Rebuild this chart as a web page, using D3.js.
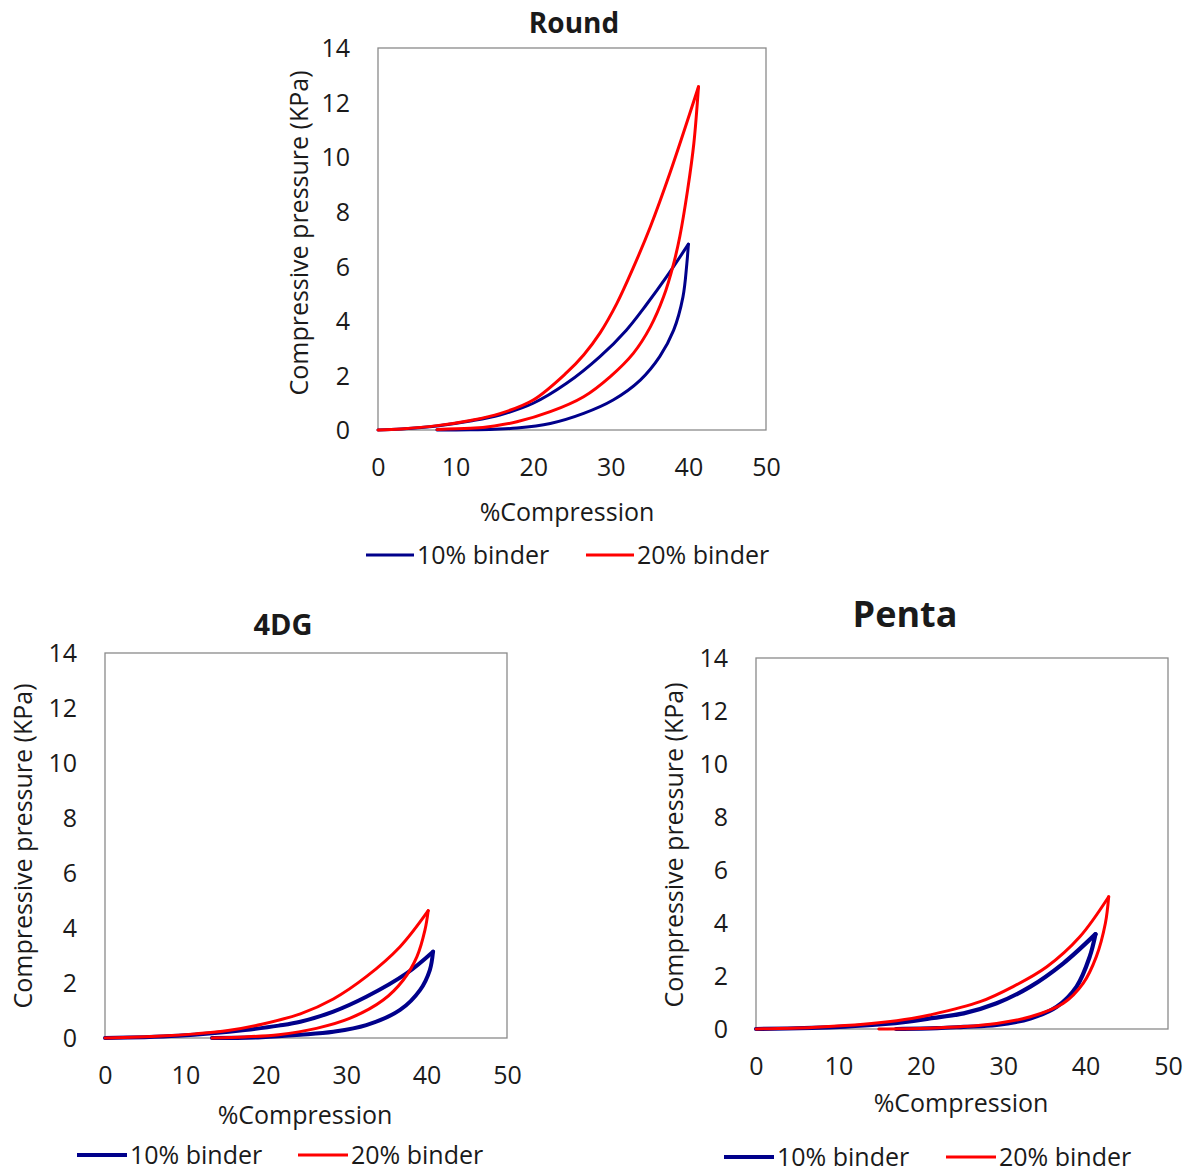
<!DOCTYPE html>
<html>
<head>
<meta charset="utf-8" />
<title>Compression curves</title>
<script src="https://d3js.org/d3.v7.min.js"></script>
<style>
  body { margin: 0; background: #fff; }
  text { fill: #1a1a1a; }
</style>
</head>
<body>
<script>
// ---- data: [%compression, pressure kPa], loading and unloading branches ----
var round10Load   = [[0,0],[3,0.04],[7.6,0.15],[11.9,0.33],[15.7,0.55],[20.0,0.98],[24.3,1.71],[28.6,2.69],[32.0,3.66],[34.6,4.6],[37.2,5.62],[40.0,6.81]];
var round10Unload = [[7.6,0],[11.9,0.01],[15,0.03],[17.9,0.07],[22.2,0.24],[26.5,0.61],[30.3,1.1],[33.8,1.83],[36.3,2.69],[38.1,3.66],[39.3,4.88],[39.8,6.1],[40.0,6.81]];
var round20Load   = [[0,0],[3,0.04],[7.6,0.16],[11.9,0.35],[15.7,0.6],[20.0,1.1],[24.3,2.1],[26.5,2.75],[28.6,3.55],[30.8,4.65],[32.9,5.95],[35.1,7.45],[37.6,9.4],[41.3,12.58]];
var round20Unload = [[7.6,0.02],[11.9,0.06],[15,0.15],[17.9,0.3],[22.2,0.67],[26.5,1.22],[29.9,1.95],[32.9,2.81],[35.1,3.78],[36.8,4.88],[38.1,6.1],[38.9,7.1],[39.9,8.8],[40.7,10.5],[41.3,12.58]];

var dg10Load   = [[0,0],[4.9,0.03],[9.1,0.08],[13.3,0.17],[17.4,0.29],[21.6,0.45],[24.3,0.59],[28.4,0.96],[32.5,1.5],[37.5,2.35],[40.8,3.14]];
var dg10Unload = [[13.3,0],[19.5,0.03],[24.3,0.12],[28.4,0.23],[32.5,0.47],[36.7,1.02],[39.2,1.75],[40.4,2.47],[40.8,3.14]];
var dg20Load   = [[0,0],[7.0,0.07],[11.2,0.15],[15.3,0.27],[19.5,0.5],[24.3,0.88],[28.4,1.42],[32.5,2.23],[36.7,3.32],[40.2,4.63]];
var dg20Unload = [[13.3,0],[17.4,0.04],[21.6,0.12],[26.3,0.35],[30.5,0.72],[34.6,1.38],[37.1,2.11],[38.8,2.96],[39.8,3.93],[40.2,4.63]];

var penta10Load   = [[0,0],[6.8,0.04],[10.8,0.09],[14.9,0.17],[18.9,0.3],[21.1,0.4],[25.2,0.59],[29.2,0.97],[33.3,1.6],[37.3,2.48],[41.2,3.58]];
var penta10Unload = [[17.0,0],[22.0,0.03],[25.2,0.08],[29.2,0.15],[33.3,0.4],[36.5,0.84],[38.9,1.6],[40.5,2.73],[41.2,3.58]];
var penta20Load   = [[0,0],[6.8,0.06],[10.8,0.13],[14.9,0.24],[18.9,0.4],[21.1,0.53],[27.2,1.03],[31.2,1.6],[35.3,2.35],[39.3,3.48],[42.8,4.99]];
var penta20Unload = [[14.9,0],[21.0,0.03],[25.2,0.09],[29.2,0.21],[33.3,0.46],[37.3,0.97],[39.7,1.72],[41.3,2.73],[42.4,3.99],[42.8,4.99]];

var xTicks = [0, 10, 20, 30, 40, 50];
var yTicks = [0, 2, 4, 6, 8, 10, 12, 14];
var seriesNames = ['10% binder', '20% binder'];
var seriesColors = ['#00008b', '#ff0000'];

var W = 1195, H = 1172;
var svg = d3.select('body').append('svg')
    .attr('width', W)
    .attr('height', H);

function panel(o) {
    var x = d3.scaleLinear().domain([0, 50]).range([o.left, o.right]);
    var y = d3.scaleLinear().domain([0, 14]).range([o.bottom, o.top]);
    var g = svg.append('g');
    var font = o.font;

    // frame
    g.append('rect')
        .attr('x', o.left).attr('y', o.top)
        .attr('width', o.right - o.left).attr('height', o.bottom - o.top)
        .attr('fill', 'none').attr('stroke', '#8a8a8a').attr('stroke-width', 1.3);

    // title
    g.append('text')
        .attr('x', o.titleX).attr('y', o.titleY)
        .attr('text-anchor', 'middle')
        .style('font', 'bold ' + o.titleSize + 'px ' + font)
        .text(o.title);

    // axes (no tick marks, labels only)
    var ax = g.append('g')
        .attr('transform', `translate(0,${o.bottom})`)
        .call(d3.axisBottom(x).tickValues(xTicks).tickSize(0).tickPadding(o.xPad));
    ax.select('.domain').remove();
    ax.selectAll('text').style('font', o.tickSize + 'px ' + font).attr('fill', '#1a1a1a');

    var ay = g.append('g')
        .attr('transform', `translate(${o.left},0)`)
        .call(d3.axisLeft(y).tickValues(yTicks).tickSize(0).tickPadding(o.yPad));
    ay.select('.domain').remove();
    ay.selectAll('text').style('font', o.tickSize + 'px ' + font).attr('fill', '#1a1a1a').attr('dy', '0.35em');

    // axis titles
    g.append('text')
        .attr('x', (o.left + o.right) / 2 + o.xTitleShift).attr('y', o.xTitleY)
        .attr('text-anchor', 'middle')
        .style('font', o.labelSize + 'px ' + font)
        .text('%Compression');

    g.append('text')
        .attr('transform', `translate(${o.yTitleX},${o.yTitleCy}) rotate(-90)`)
        .attr('text-anchor', 'middle')
        .style('font', o.labelSize + 'px ' + font)
        .text('Compressive pressure (KPa)');

    // curves
    var line = d3.line()
        .x(d => x(d[0]))
        .y(d => y(d[1]))
        .curve(d3.curveCatmullRom.alpha(0.5));

    o.series.forEach(function (s, i) {
        [s.load, s.unload].forEach(function (branch) {
            g.append('path')
                .datum(branch)
                .attr('d', line)
                .attr('fill', 'none')
                .attr('stroke', seriesColors[i])
                .attr('stroke-width', o.widths[i])
                .attr('stroke-linejoin', 'round')
                .attr('stroke-linecap', 'round');
        });
    });

    // legend
    seriesNames.forEach(function (name, i) {
        var lx = o.legendX[i];
        g.append('line')
            .attr('x1', lx).attr('x2', lx + o.legendLen)
            .attr('y1', o.legendY).attr('y2', o.legendY)
            .attr('stroke', seriesColors[i])
            .attr('stroke-width', o.widths[i]);
        g.append('text')
            .attr('x', lx + o.legendLen + 3).attr('y', o.legendY)
            .attr('dy', '0.35em')
            .style('font', o.labelSize + 'px ' + font)
            .text(name);
    });
}

var wideFont = '"Open Sans", sans-serif';
var narrowFont = '"Open Sans", sans-serif';

panel({
    title: 'Round', titleX: 574, titleY: 33, titleSize: 28,
    left: 378, right: 766, top: 48, bottom: 430,
    font: wideFont, tickSize: 25, labelSize: 25,
    xPad: 28, yPad: 28,
    xTitleY: 521, xTitleShift: -5,
    yTitleX: 308, yTitleCy: 233,
    series: [{ load: round10Load, unload: round10Unload }, { load: round20Load, unload: round20Unload }],
    widths: [3, 3],
    legendX: [366, 586], legendLen: 48, legendY: 555
});

panel({
    title: '4DG', titleX: 283, titleY: 635, titleSize: 29,
    left: 105, right: 507, top: 653, bottom: 1038,
    font: narrowFont, tickSize: 25, labelSize: 25,
    xPad: 28, yPad: 28,
    xTitleY: 1124, xTitleShift: -1,
    yTitleX: 32, yTitleCy: 846,
    series: [{ load: dg10Load, unload: dg10Unload }, { load: dg20Load, unload: dg20Unload }],
    widths: [4, 3],
    legendX: [77, 298], legendLen: 50, legendY: 1155
});

panel({
    title: 'Penta', titleX: 905, titleY: 627, titleSize: 36,
    left: 756, right: 1168, top: 658, bottom: 1029,
    font: narrowFont, tickSize: 25, labelSize: 25,
    xPad: 28, yPad: 28,
    xTitleY: 1112, xTitleShift: -1,
    yTitleX: 683, yTitleCy: 845,
    series: [{ load: penta10Load, unload: penta10Unload }, { load: penta20Load, unload: penta20Unload }],
    widths: [4.2, 3],
    legendX: [724, 946], legendLen: 50, legendY: 1157
});
</script>
</body>
</html>
